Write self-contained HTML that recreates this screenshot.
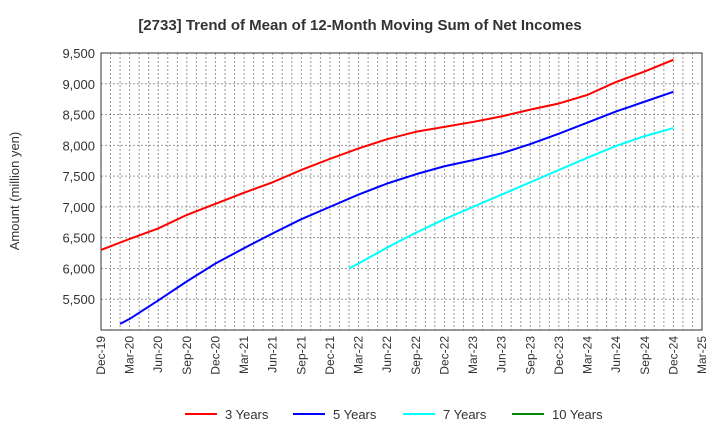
<!DOCTYPE html>
<html><head><meta charset="utf-8"><style>
body{margin:0;background:#fff;}
svg{display:block;font-family:"Liberation Sans",Arial,sans-serif;}
</style></head><body>
<svg id="chart" width="720" height="440">
<text x="360" y="30" text-anchor="middle" font-size="15" font-weight="bold" fill="#333">[2733]  Trend of Mean of 12-Month Moving Sum of Net Incomes</text>
<g id="grid"></g><g id="axes"></g><g id="series"></g>
<text transform="translate(19,191) rotate(-90)" text-anchor="middle" font-size="13" fill="#333">Amount (million yen)</text>
<g id="legend"></g>
</svg>
<script>
const xLabels=["Dec-19","Mar-20","Jun-20","Sep-20","Dec-20","Mar-21","Jun-21","Sep-21","Dec-21","Mar-22","Jun-22","Sep-22","Dec-22","Mar-23","Jun-23","Sep-23","Dec-23","Mar-24","Jun-24","Sep-24","Dec-24","Mar-25"];
const yTicks=[5500,6000,6500,7000,7500,8000,8500,9000,9500];
// month offsets from Dec-19
const m3=[0,3,6,9,12,15,18,21,24,27,30,33,36,39,42,45,48,51,54,57,60];
const s3=[6300,6480,6650,6870,7050,7230,7400,7600,7780,7950,8100,8220,8300,8380,8470,8580,8680,8820,9030,9200,9390];
const m5=[2,3,6,9,12,15,18,21,24,27,30,33,36,39,42,45,48,51,54,57,60];
const s5=[5100,5180,5480,5790,6080,6330,6570,6800,7000,7200,7380,7530,7660,7760,7870,8020,8190,8370,8550,8710,8870];
const m7=[26,27,30,33,36,39,42,45,48,51,54,57,60];
const s7=[6000,6080,6340,6580,6800,7000,7200,7400,7600,7800,7990,8150,8280];
const m10=[];
const s10=[];
const NS="http://www.w3.org/2000/svg";
const L=101,R=702,T=53,B=330,yMin=5000,yMax=9500;
const months=(xLabels.length-1)*3;
const xm=m=>L+(R-L)*m/months;
const xs=i=>xm(i*3);
const ys=v=>B-(v-yMin)/(yMax-yMin)*(B-T);
function mk(p,t,a){const e=document.createElementNS(NS,t);for(const k in a)e.setAttribute(k,a[k]);p.appendChild(e);return e;}
const grid=document.getElementById('grid'),axes=document.getElementById('axes'),ser=document.getElementById('series'),leg=document.getElementById('legend');
for(let m=1;m<months;m++){const x=xm(m);
const g=mk(grid,'line',{x1:x,x2:x,y1:T,y2:B,stroke:'#999','stroke-width':1,'stroke-dasharray':'2,2'});

}
yTicks.forEach(v=>{const y=ys(v);
const g=mk(grid,'line',{x1:L,x2:R,y1:y,y2:y,stroke:'#999','stroke-width':1,'stroke-dasharray':'2,2'});


const t=mk(axes,'text',{x:L-6,y:y+5,'text-anchor':'end','font-size':13,fill:'#333'});t.textContent=v.toLocaleString('en-US');

});
xLabels.forEach((l,i)=>{const x=xs(i);
const t=mk(axes,'text',{transform:`translate(${x+4},${B+6}) rotate(-90)`,'text-anchor':'end','font-size':12,fill:'#333'});t.textContent=l;

});
const fr=mk(axes,'rect',{x:L,y:T,width:R-L,height:B-T,fill:'none',stroke:'#333','stroke-width':1});


const series=[[m3,s3,'#f00','3 Years'],[m5,s5,'#00f','5 Years'],[m7,s7,'#0ff','7 Years'],[m10,s10,'#080','10 Years']];
series.forEach(([mm,d,c,n])=>{const pts=d.map((v,i)=>xm(mm[i])+','+ys(v));
if(pts.length){const p=mk(ser,'polyline',{points:pts.join(' '),fill:'none',stroke:c,'stroke-width':2,'stroke-linejoin':'round'});

}});
const lx=[185,293,403,512];
series.forEach(([mm,d,c,n],i)=>{const g=mk(leg,'g',{});


mk(g,'line',{x1:lx[i],x2:lx[i]+32,y1:414,y2:414,stroke:c,'stroke-width':2});
const t=mk(g,'text',{x:lx[i]+40,y:419,'font-size':13,fill:'#333'});t.textContent=n;});
</script>
</body></html>
